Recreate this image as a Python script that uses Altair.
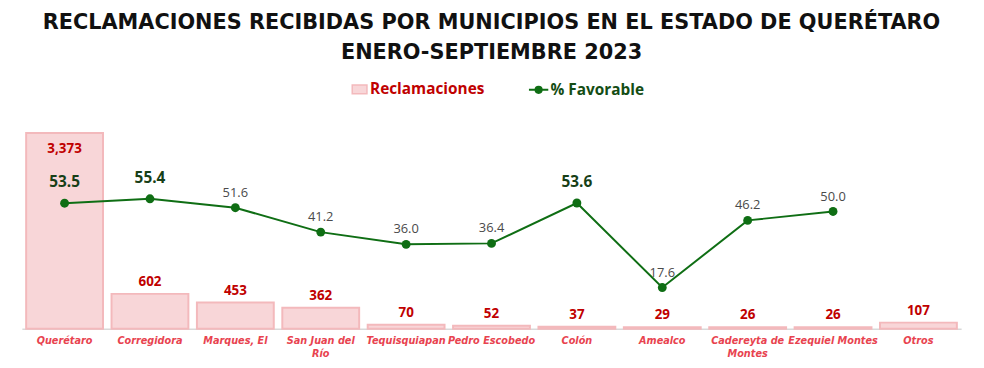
import altair as alt
import pandas as pd

municipios = ["Querétaro", "Corregidora", "Marques, El", "San Juan del Río", "Tequisquiapan",
              "Pedro Escobedo", "Colón", "Amealco", "Cadereyta de Montes", "Ezequiel Montes", "Otros"]
reclamaciones = [3373, 602, 453, 362, 70, 52, 37, 29, 26, 26, 107]
favorable = [53.5, 55.4, 51.6, 41.2, 36.0, 36.4, 53.6, 17.6, 46.2, 50.0, None]
destacado = [True, True, False, False, False, False, True, False, False, False, False]

df = pd.DataFrame({
    "Municipio": municipios,
    "Reclamaciones": reclamaciones,
    "Favorable": favorable,
    "Destacado": destacado,
    "serie_b": ["Reclamaciones"] * len(municipios),
    "serie_l": ["% Favorable"] * len(municipios),
})
df["etq_rec"] = df["Reclamaciones"].map(lambda v: f"{v:,}")
df["etq_fav"] = df["Favorable"].map(lambda v: "" if pd.isna(v) else f"{v:.1f}")

FONT = "Open Sans"
WIDE = "DejaVu Sans"
label_expr = ("datum.value == 'San Juan del Río' ? ['San Juan del', 'Río'] : "
              "datum.value == 'Cadereyta de Montes' ? ['Cadereyta de', 'Montes'] : datum.value")

x = alt.X("Municipio:N", sort=municipios, title=None,
          scale=alt.Scale(paddingInner=0.1, paddingOuter=0.05),
          axis=alt.Axis(labelAngle=0, labelFont=WIDE, labelFontSize=9.8, labelFontStyle="italic",
                        labelFontWeight="bold", labelColor="#e8434f", labelExpr=label_expr,
                        ticks=False, domainColor="#d9d9d9", domainWidth=1.5, labelPadding=7,
                        labelLineHeight=13))

y_bar = alt.Y("Reclamaciones:Q", scale=alt.Scale(domain=[0, 3500]), axis=None, title=None)
y_line = alt.Y("Favorable:Q", scale=alt.Scale(domain=[0, 86.6]), axis=None, title=None)

base = alt.Chart(df)

bars = base.mark_bar(stroke="#f3b9bc", strokeWidth=2).encode(
    x=x, y=y_bar,
    fill=alt.Fill("serie_b:N", scale=alt.Scale(domain=["Reclamaciones"], range=["#f8d6d8"]),
                  legend=alt.Legend(title=None, orient="none", legendX=332, legendY=-45,
                                    labelFont=FONT, labelFontSize=15.5, labelFontWeight="bold",
                                    labelColor="#c00000", symbolType="M-1,-0.6H1V0.6H-1Z",
                                    symbolSize=220, symbolStrokeColor="#f3b9bc", symbolStrokeWidth=1.5,
                                    labelOffset=2)),
)

bar_lab = base.transform_filter("datum.Municipio != 'Querétaro'").mark_text(
    font=FONT, fontSize=13.5, fontWeight="bold", color="#c00000", dy=-8, baseline="alphabetic"
).encode(x=x, y=y_bar, text="etq_rec:N")

bar_lab_in = base.transform_filter("datum.Municipio == 'Querétaro'").mark_text(
    font=FONT, fontSize=13.5, fontWeight="bold", color="#c00000", dy=20, baseline="alphabetic"
).encode(x=x, y=y_bar, text="etq_rec:N")

line = base.transform_filter("isValid(datum.Favorable)").mark_line(strokeWidth=2).encode(
    x=x, y=y_line,
    stroke=alt.Stroke("serie_l:N", scale=alt.Scale(domain=["% Favorable"], range=["#0f6e14"]),
                      legend=alt.Legend(title=None, orient="none", legendX=510, legendY=-47,
                                        labelFont=FONT, labelFontSize=15.5, labelFontWeight="bold",
                                        labelColor="#144d14",
                                        symbolType="M-1,0H1M0.32,0A0.32,0.32,0,1,1,-0.32,0A0.32,0.32,0,1,1,0.32,0Z",
                                        symbolSize=380, symbolStrokeWidth=2, symbolFillColor="#0f6e14",
                                        labelOffset=1)),
)

pts = base.transform_filter("isValid(datum.Favorable)").mark_point(
    filled=True, size=80, color="#0f6e14", opacity=1
).encode(x=x, y=y_line)

fav_bold = base.transform_filter("isValid(datum.Favorable) && datum.Destacado").mark_text(
    font=FONT, fontSize=15.5, fontWeight="bold", color="#173f17", dy=-16, baseline="alphabetic"
).encode(x=x, y=y_line, text="etq_fav:N")

fav_reg = base.transform_filter("isValid(datum.Favorable) && !datum.Destacado").mark_text(
    font=FONT, fontSize=13, color="#4a4a4a", dy=-11, baseline="alphabetic"
).encode(x=x, y=y_line, text="etq_fav:N")

chart = alt.layer(bars, bar_lab, bar_lab_in, line, pts, fav_bold, fav_reg).resolve_scale(
    y="independent"
).properties(
    width=947, height=205,
    background="white",
    title=alt.TitleParams(
        text=["RECLAMACIONES RECIBIDAS POR MUNICIPIOS EN EL ESTADO DE QUERÉTARO", "ENERO-SEPTIEMBRE 2023"],
        font=WIDE, fontSize=21, fontWeight="bold", color="#111111", anchor="middle",
        lineHeight=30, offset=16),
    autosize=alt.AutoSizeParams(type="none"),
    padding={"left": 14, "top": 117, "right": 15, "bottom": 40},
).configure_view(strokeWidth=0, stroke=None)

chart.save("out.html", embed_options={"renderer": "svg", "actions": False})
